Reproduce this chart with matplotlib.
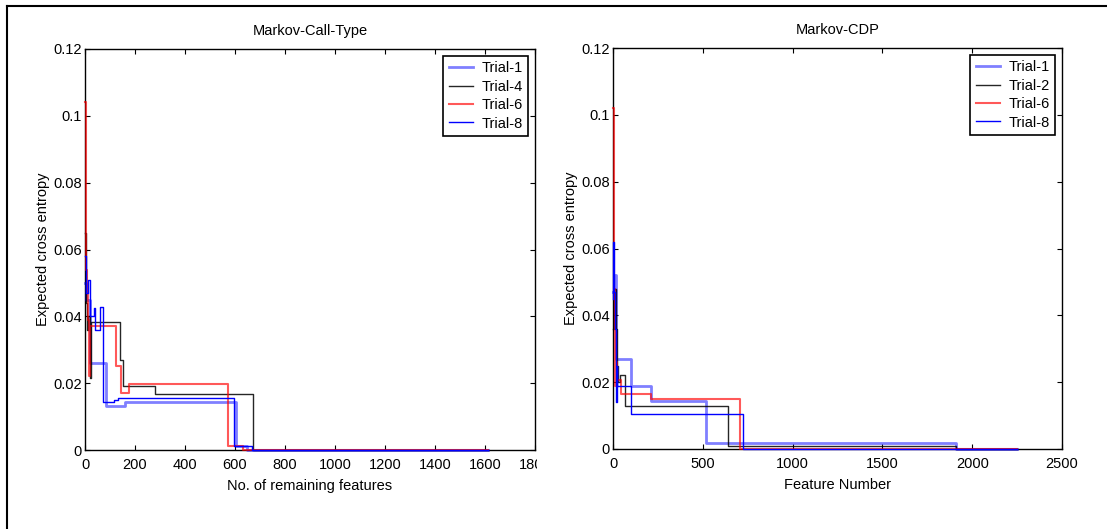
import matplotlib
matplotlib.use('Agg')
import matplotlib.pyplot as plt
from matplotlib.lines import Line2D
from matplotlib.patches import Rectangle
from matplotlib.ticker import FuncFormatter

plt.rcParams['font.family'] = ['Liberation Sans Narrow', 'Liberation Sans', 'DejaVu Sans']
plt.rcParams['font.size'] = 10.5

# ---- left panel: Markov-Call-Type (step curves, x = start of each step) ----
call_t1_x = [0, 5, 20, 83, 160, 604, 647, 1610]
call_t1_y = [0.050, 0.045, 0.026, 0.0133, 0.0143, 0.0012, 0.0, 0.0]
call_t4_x = [0, 5, 8, 11, 20, 24, 140, 151, 280, 673, 1610]
call_t4_y = [0.065, 0.044, 0.036, 0.040, 0.0215, 0.0382, 0.027, 0.0192, 0.0168, 0.0, 0.0]
call_t6_x = [0, 3, 5, 8, 11, 15, 19, 124, 143, 177, 573, 631, 1610]
call_t6_y = [0.104, 0.060, 0.054, 0.047, 0.039, 0.022, 0.037, 0.0252, 0.0172, 0.0197, 0.0012, 0.0, 0.0]
call_t8_x = [0, 3, 10, 18, 34, 40, 60, 70, 117, 131, 597, 667, 1610]
call_t8_y = [0.058, 0.047, 0.051, 0.040, 0.0426, 0.036, 0.0429, 0.0145, 0.0150, 0.0157, 0.0012, 0.0, 0.0]

# ---- right panel: Markov-CDP ----
cdp_t1_x = [0, 6, 19, 99, 210, 516, 1910, 2250]
cdp_t1_y = [0.047, 0.052, 0.027, 0.019, 0.0145, 0.0017, 0.0, 0.0]
cdp_t2_x = [0, 8, 16, 20, 28, 37, 65, 639, 1909, 2250]
cdp_t2_y = [0.036, 0.048, 0.036, 0.0247, 0.020, 0.022, 0.013, 0.001, 0.0, 0.0]
cdp_t6_x = [0, 5, 12, 16, 20, 43, 210, 708, 2250]
cdp_t6_y = [0.102, 0.048, 0.019, 0.026, 0.0207, 0.0165, 0.0150, 0.0, 0.0]
cdp_t8_x = [0, 2, 6, 10, 14, 22, 25, 99, 726, 2250]
cdp_t8_y = [0.045, 0.062, 0.047, 0.036, 0.014, 0.0247, 0.019, 0.0105, 0.0, 0.0]

y_ticks = [0, 0.02, 0.04, 0.06, 0.08, 0.1, 0.12]
call_x_ticks = [0, 200, 400, 600, 800, 1000, 1200, 1400, 1600, 1800]
cdp_x_ticks = [0, 500, 1000, 1500, 2000, 2500]

call_labels = ['Trial-1', 'Trial-4', 'Trial-6', 'Trial-8']
cdp_labels = ['Trial-1', 'Trial-2', 'Trial-6', 'Trial-8']

# styles: light thick blue, black, red, thin blue
styles = [
    dict(color='blue', lw=2.0, alpha=0.5),
    dict(color='black', lw=1.0, alpha=0.85),
    dict(color='red', lw=1.5, alpha=0.65),
    dict(color='blue', lw=1.0, alpha=1.0),
]

W, H = 1107, 529
fig = plt.figure(figsize=(W / 100, H / 100), dpi=100)


def px_axes(left, top, right, bottom):
    return fig.add_axes([left / W, 1 - bottom / H, (right - left) / W, (bottom - top) / H])


def style_axes(ax, xmax, xticks, title, xlabel):
    ax.set_xlim(0, xmax)
    ax.set_ylim(0, 0.12)
    ax.set_xticks(xticks)
    ax.set_yticks(y_ticks)
    ax.yaxis.set_major_formatter(FuncFormatter(lambda v, p: '%g' % round(v, 4)))
    ax.tick_params(direction='in', top=True, right=True, length=3.5, width=0.8)
    ax.tick_params(axis='x', pad=5.5)
    ax.tick_params(axis='y', pad=2.5)
    for s in ax.spines.values():
        s.set_linewidth(1.0)
    ax.set_title(title, fontsize=10.5, pad=10)
    ax.set_xlabel(xlabel, labelpad=5)
    ax.set_ylabel('Expected cross entropy', labelpad=2)


def draw(ax, xs, ys, labels):
    handles = []
    for x, y, st, lab in zip(xs, ys, styles, labels):
        # lines sit on top of the spines, as in the original
        h, = ax.step(x, y, where='post', label=lab, zorder=3, clip_on=False, **st)
        handles.append(h)
    leg = ax.legend(handles=handles, loc='upper right', fancybox=False, framealpha=1,
                    edgecolor='black', borderaxespad=0.45, handlelength=1.6,
                    handletextpad=0.6, labelspacing=0.3, borderpad=0.4)
    leg.get_frame().set_linewidth(1.2)
    leg.set_zorder(5)


ax1 = px_axes(85, 49, 535, 450)
draw(ax1, [call_t1_x, call_t4_x, call_t6_x, call_t8_x],
     [call_t1_y, call_t4_y, call_t6_y, call_t8_y], call_labels)
style_axes(ax1, 1800, call_x_ticks, 'Markov-Call-Type', 'No. of remaining features')

ax2 = px_axes(613, 48, 1062, 449)
draw(ax2, [cdp_t1_x, cdp_t2_x, cdp_t6_x, cdp_t8_x],
     [cdp_t1_y, cdp_t2_y, cdp_t6_y, cdp_t8_y], cdp_labels)
style_axes(ax2, 2500, cdp_x_ticks, 'Markov-CDP', 'Feature Number')

# the left picture was cut off just past its right axis, hiding part of "1800"
fig.patches.append(Rectangle((537 / W, 1 - 480 / H), 20 / W, 26 / H,
                             transform=fig.transFigure, facecolor='white',
                             edgecolor='none', zorder=10))

# outer frame (left and top edges only are visible)
fig.lines.append(Line2D([7 / W, 7 / W], [0, 1 - 6 / H], transform=fig.transFigure,
                        color='black', lw=1.5))
fig.lines.append(Line2D([7 / W, 1], [1 - 6 / H, 1 - 6 / H], transform=fig.transFigure,
                        color='black', lw=1.5))

fig.savefig('out.png', dpi=100)
